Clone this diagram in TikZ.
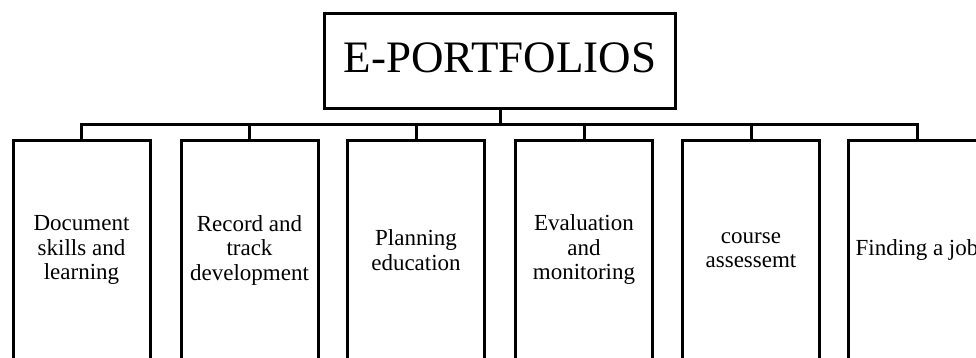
\documentclass[tikz,border=0pt]{standalone}
\usepackage{fontspec}
\setmainfont{Liberation Serif}
\usepackage{tikz}

\tikzset{
    topbox/.style={rectangle, draw, line width=3pt, minimum width=351pt, minimum height=95pt,
        inner sep=0pt, font=\fontsize{45}{50}\selectfont, text depth=7pt},
    itembox/.style={rectangle, draw, line width=3pt, minimum width=137pt, minimum height=219pt,
        inner sep=0pt, align=center, font=\fontsize{23}{24.5}\selectfont},
    link/.style={line width=3pt}
}

\begin{document}
\begin{tikzpicture}[x=1pt, y=-1pt]
                        \useasboundingbox (0, 0) rectangle (976, 358);
                        \clip (0, 0) rectangle (976, 358);

                        \node (0) at (500, 61) [topbox] {E-PORTFOLIOS};

                        \foreach \k/\x/\txt in {1/81.5/{Document\\skills and\\learning},
                                               2/249.5/{Record and\\track\\development},
                                               3/416/{Planning\\education},
                                               4/584/{Evaluation\\and\\monitoring},
                                               5/751/{course\\assessemt},
                                               6/917/{Finding a job}} {
                            \node (\k) at (\x, 250) [itembox] {\txt};
                        }

                        \coordinate (bar) at (500, 125);

                        \draw [link] (1.north) |- (6.north |- bar) -- (6.north);
                        \draw [link] (0.south) -- (bar);
                        \foreach \k in {2, 3, 4, 5} {
                            \draw [link] (\k.north) -- (\k.north |- bar);
                        }
                    \end{tikzpicture}
\end{document}
